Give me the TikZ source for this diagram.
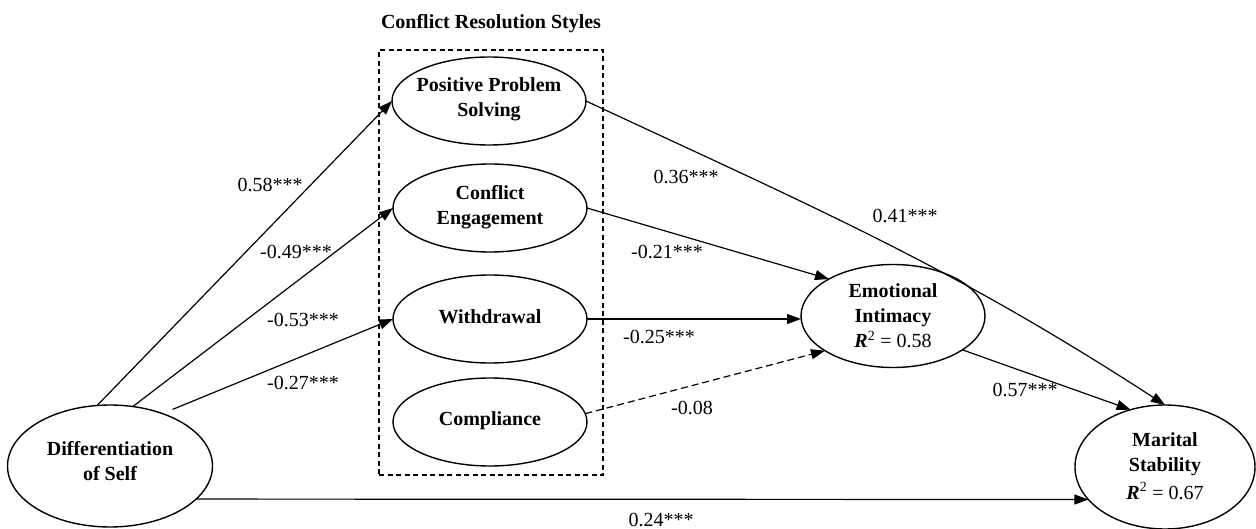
\documentclass[tikz,border=0pt]{standalone}
\usepackage{fontspec}
\setmainfont{Liberation Serif}
\usetikzlibrary{arrows.meta,shapes.geometric}
\begin{document}
\begin{tikzpicture}[x=1pt,y=1pt,
  ell/.style={draw, ellipse, line width=1.4pt, inner sep=0pt, outer sep=0pt},
  ntext/.style={font=\fontsize{20}{25}\selectfont\bfseries, align=center, inner sep=0pt},
  coef/.style={font=\fontsize{20}{24}\selectfont, inner sep=0pt},
  arr/.style={line width=1.2pt, -{Triangle[length=14pt,width=10pt]}},
  dasharr/.style={arr, dash pattern=on 7pt off 4pt},
  grp/.style={draw, line width=1.3pt, dash pattern=on 5pt off 3.5pt, inner sep=0pt, outer sep=0pt}]
\useasboundingbox (0,0) rectangle (1256,-529);

% group box and title
\node[ntext] (title) at (491,-24) {Conflict Resolution Styles};
\node[grp, minimum width=224pt, minimum height=425pt] (box) at (491,-262.5) {};

% ellipses
\node[ell, minimum width=205pt, minimum height=122pt] (diff) at (110,-466) {};
\node[ell, minimum width=194pt, minimum height=88pt] (pps) at (489,-101) {};
\node[ell, minimum width=194pt, minimum height=88pt] (ce) at (490,-208) {};
\node[ell, minimum width=194pt, minimum height=88pt] (wd) at (490,-319) {};
\node[ell, minimum width=194pt, minimum height=88pt] (comp) at (490,-422) {};
\node[ell, minimum width=184pt, minimum height=103pt] (ei) at (893,-316) {};
\node[ell, minimum width=180pt, minimum height=124pt] (ms) at (1165,-467) {};

% ellipse texts
\node[ntext] (diff-t) at (110,-461) {Differentiation\\of Self};
\node[ntext] (pps-t) at (489,-99) {Positive Problem\\Solving};
\node[ntext] (ce-t) at (490,-207) {Conflict\\Engagement};
\node[ntext] (wd-t) at (490,-317) {Withdrawal};
\node[ntext] (comp-t) at (490,-421) {Compliance};
\node[ntext] (ei-t) at (893,-316) {Emotional\\Intimacy\\\mdseries\textbf{\textit{R}}\textsuperscript{2} = 0.58};
\node[ntext] (ms-t) at (1165,-466) {Marital\\Stability\\[3pt]\mdseries\textbf{\textit{R}}\textsuperscript{2} = 0.67};

% connectors
\draw[arr] (diff.102.1) -- (pps.west);
\draw[arr] (diff.69.7) -- (ce.west);
\draw[arr, shorten <=11pt] (diff.45.8) -- (wd.west);
\draw[arr] (pps.east) to[out=-25, in=147] (ms.north);
\draw[arr] (ce.east) -- (ei.150);
\draw[arr] (wd.east) -- (wd.east -| ei.west);
\draw[dasharr] (comp.5) -- (ei.207);
\draw[arr] (ei.-26.9) -- (ms.121);
\draw[arr] (diff.-21.8) -- (ms.203.4);

% coefficients
\node[coef] (c1) at (270,-185) {0.58***};
\node[coef] (c2) at (296,-252) {-0.49***};
\node[coef] (c3) at (303,-320) {-0.53***};
\node[coef] (c4) at (303,-383) {-0.27***};
\node[coef] (c5) at (686,-177) {0.36***};
\node[coef] (c6) at (905,-216) {0.41***};
\node[coef] (c7) at (667,-252) {-0.21***};
\node[coef] (c8) at (659,-337) {-0.25***};
\node[coef] (c9) at (692,-408) {-0.08};
\node[coef] (c10) at (1025,-390) {0.57***};
\node[coef] (c11) at (661,-520) {0.24***};
\end{tikzpicture}
\end{document}
